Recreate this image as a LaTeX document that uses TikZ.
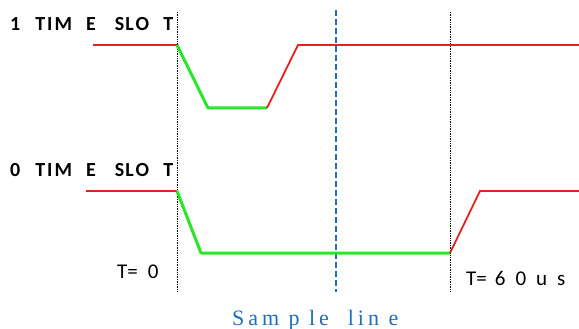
\documentclass[tikz,border=0pt]{standalone}
\usepackage{fontspec}
\setmainfont{Carlito}
\newfontfamily\capfont[LetterSpace=18]{Liberation Serif}
\usetikzlibrary{positioning}

\definecolor{sigred}{RGB}{228,32,32}
\definecolor{siggreen}{RGB}{40,230,40}
\definecolor{sampblue}{RGB}{30,110,190}

\tikzset{
    high/.style={sigred, line width=1.8pt},
    low/.style={siggreen, line width=3pt},
    marker/.style={black, densely dotted, line width=0.7pt},
    slotlabel/.style={font=\bfseries\fontsize{20}{22}\selectfont, inner sep=0pt, anchor=base west},
    timelabel/.style={font=\fontsize{21}{24}\selectfont, inner sep=0pt, anchor=base west}
}

\newcommand{\slottext}[1]{#1\hspace{15pt}T\hspace{2pt}I\hspace{2pt}M\hspace{14pt}E\hspace{19pt}S\hspace{1pt}L\hspace{2pt}O\hspace{14pt}T}

\begin{document}
\begin{tikzpicture}[x=1pt, y=-1pt]

\useasboundingbox (0,0) rectangle (579,329);

% Time markers
\draw[marker] (177,12) -- (177,292);
\draw[marker] (450,12) -- (450,292);

% Sample line
\draw[sampblue, line width=1.6pt, dash pattern=on 6pt off 3pt] (336,10) -- (336,292);

% 1 time slot
\node[slotlabel] (one) at (10,31) {\slottext{1}};
\draw[high] (93,45) -- (177,45);
\draw[low, line join=round] (177,45) -- (208,108) -- (267,108);
\draw[high] (267,108) -- (298,45) -- (579,45);

% 0 time slot
\node[slotlabel] (zero) at (10,176) {\slottext{0}};
\draw[high] (86,191) -- (177,191);
\draw[low, line join=round] (177,191) -- (201,253) -- (450,253);
\draw[high] (450,253) -- (480,191) -- (579,191);

% Times
\node[timelabel] (tzero) at (117,278) {T=\hspace{10pt}0};
\node[timelabel] (tsixty) at (466,285) {T=\hspace{8pt}6\hspace{10pt}0\hspace{10pt}u\hspace{10pt}s};

% Caption
\node[font=\capfont\fontsize{22}{24}\selectfont, text=sampblue, inner sep=0pt, anchor=base west] (cap) at (232,325) {Sam p le\ \ lin e};

\end{tikzpicture}
\end{document}
